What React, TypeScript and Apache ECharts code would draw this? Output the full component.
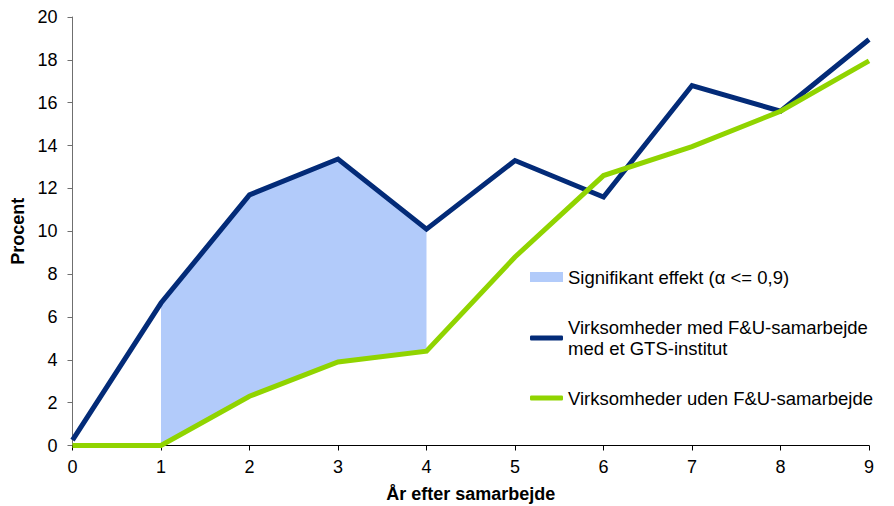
import React, { useEffect, useRef } from "react";
import * as echarts from "echarts";

const years = ["0", "1", "2", "3", "4", "5", "6", "7", "8", "9"];
const withGts = [0.25, 6.65, 11.7, 13.37, 10.1, 13.3, 11.6, 16.8, 15.6, 18.95];
const without = [0, 0, 2.3, 3.9, 4.4, 8.8, 12.6, 13.95, 15.6, 17.95];
const sigStart = 1;
const sigEnd = 4;

const nameSig = "Signifikant effekt (α <= 0,9)";
const nameGts = "Virksomheder med F&U-samarbejde\nmed et GTS-institut";
const nameWithout = "Virksomheder uden F&U-samarbejde";

const FONT = "'Liberation Sans', Arial, sans-serif";
const BLUE = "#032b78";
const GREEN = "#90d400";
const FILL = "#b2cbfa";

export default function App() {
  const ref = useRef<HTMLDivElement>(null);
  useEffect(() => {
    if (!ref.current) return;
    const chart = echarts.init(ref.current, undefined, { renderer: "svg" });
    const base = without.map((v, i) => (i >= sigStart && i <= sigEnd ? v : "-"));
    const diff = withGts.map((v, i) =>
      i >= sigStart && i <= sigEnd ? +(v - without[i]).toFixed(3) : "-"
    );
    const legendText = { fontFamily: FONT, fontSize: 18.5, color: "#000", lineHeight: 21 };
    chart.setOption({
      animation: false,
      textStyle: { fontFamily: FONT },
      grid: {
        left: 72.5,
        right: 25,
        top: 17,
        bottom: 60.5,
        containLabel: false,
        outerBoundsMode: "none",
      },
      legend: [
        {
          data: [nameSig],
          left: 530,
          top: 266.5,
          padding: 0,
          icon: "rect",
          itemWidth: 33,
          itemHeight: 10,
          textStyle: legendText,
          selectedMode: false,
        },
        {
          data: [nameGts],
          left: 530,
          top: 306.5,
          padding: 0,
          icon: "roundRect",
          itemWidth: 33,
          itemHeight: 5,
          textStyle: { ...legendText, padding: [21, 0, 0, 0] },
          selectedMode: false,
        },
        {
          data: [nameWithout],
          left: 530,
          top: 387.5,
          padding: 0,
          icon: "roundRect",
          itemWidth: 33,
          itemHeight: 5,
          textStyle: legendText,
          selectedMode: false,
        },
      ],
      xAxis: {
        type: "category",
        data: years,
        boundaryGap: false,
        name: "År efter samarbejde",
        nameLocation: "middle",
        nameGap: 39,
        nameTextStyle: { fontFamily: FONT, fontSize: 18, fontWeight: "bold", color: "#000" },
        axisLine: { lineStyle: { color: "#000", width: 1 } },
        axisTick: { show: true, length: 5, lineStyle: { color: "#000" } },
        axisLabel: { fontFamily: FONT, fontSize: 18, color: "#000", margin: 12 },
        splitLine: { show: false },
      },
      yAxis: {
        type: "value",
        min: 0,
        max: 20,
        interval: 2,
        name: "Procent",
        nameLocation: "middle",
        nameGap: 42,
        nameTextStyle: { fontFamily: FONT, fontSize: 18, fontWeight: "bold", color: "#000" },
        axisLine: { show: true, lineStyle: { color: "#6f6f6f", width: 1 } },
        axisTick: { show: true, length: 5, lineStyle: { color: "#6f6f6f" } },
        axisLabel: { fontFamily: FONT, fontSize: 18, color: "#000", margin: 15 },
        splitLine: { show: false },
      },
      series: [
        {
          name: "base",
          type: "line",
          data: base,
          stack: "sig",
          symbol: "none",
          silent: true,
          lineStyle: { width: 0, opacity: 0 },
          z: 1,
        },
        {
          name: nameSig,
          type: "line",
          data: diff,
          stack: "sig",
          symbol: "none",
          silent: true,
          lineStyle: { width: 0, opacity: 0 },
          itemStyle: { color: FILL },
          areaStyle: { color: FILL, opacity: 1 },
          z: 1,
        },
        {
          name: nameGts,
          type: "line",
          data: withGts,
          symbol: "none",
          lineStyle: { color: BLUE, width: 5, join: "miter" },
          itemStyle: { color: BLUE },
          z: 2,
        },
        {
          name: nameWithout,
          type: "line",
          data: without,
          symbol: "none",
          lineStyle: { color: GREEN, width: 5, join: "miter" },
          itemStyle: { color: GREEN },
          z: 3,
        },
      ],
    });
    return () => chart.dispose();
  }, []);
  return (
    <div
      ref={ref}
      style={{ position: "absolute", left: 0, top: 0, width: 894, height: 506, background: "#fff" }}
    />
  );
}
